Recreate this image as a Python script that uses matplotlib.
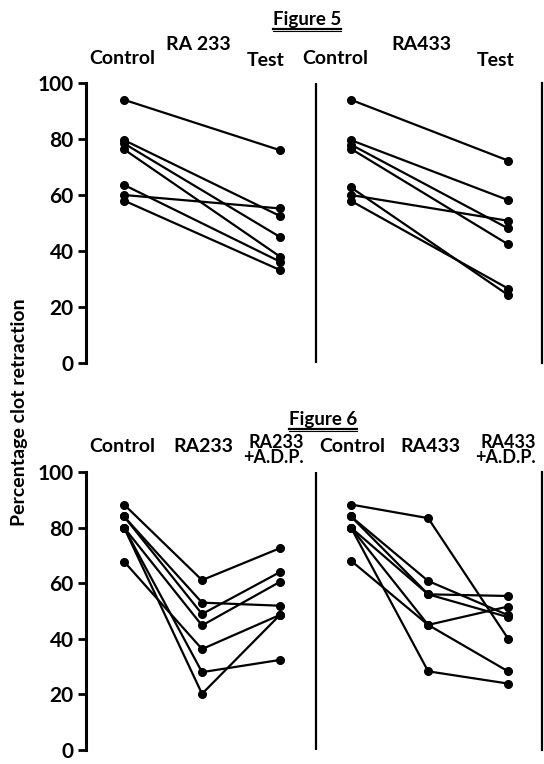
import numpy as np
import matplotlib.pyplot as plt
from matplotlib.lines import Line2D

plt.rcParams['font.family'] = ['Lato', 'DejaVu Sans']

# Figure 5: 対照 -> 試験 (各被験者)
f5_ra233_control = [94, 79.6, 78.4, 76.3, 63.6, 60, 58]
f5_ra233_test = [76, 52.5, 45, 38, 36.2, 55.2, 33.2]
f5_ra433_control = [94, 79.6, 78, 76.5, 62.7, 60, 57.9]
f5_ra433_test = [72.3, 58.2, 48.1, 42.4, 24.3, 50.8, 26.6]

# Figure 6: 対照 -> 薬剤 -> 薬剤 + A.D.P.
f6_ra233_control = [88.3, 84, 84, 80, 80, 80, 67.8]
f6_ra233_drug = [61.1, 53, 48.9, 44.8, 28, 20.2, 36.3]
f6_ra233_adp = [72.6, 51.9, 64, 60.5, 32.4, 48.6, 48.6]
f6_ra433_control = [88.3, 84, 84, 80, 80, 80, 68.1]
f6_ra433_drug = [83.4, 60.8, 56, 56, 45, 28.3, 45]
f6_ra433_adp = [40.1, 48.5, 55.4, 47.8, 51.6, 23.9, 28.3]

yticks = [0, 20, 40, 60, 80, 100]
ytick_labels = ["0", "20", "40", "60", "80", "100"]

W, H = 544, 764
fig = plt.figure(figsize=(W / 100, H / 100), dpi=100)


def px_axes(x0, x1, y_top, y_bot):
    return fig.add_axes([x0 / W, 1 - y_bot / H, (x1 - x0) / W, (y_bot - y_top) / H])


def style(ax):
    ax.set_xlim(-0.244, 2.68)
    ax.set_ylim(0, 100)
    for s in ['top', 'bottom']:
        ax.spines[s].set_visible(False)
    ax.spines['left'].set_linewidth(2.2)
    ax.spines['right'].set_linewidth(1.6)
    ax.set_xticks([])
    ax.set_yticks(yticks)
    ax.set_yticklabels(ytick_labels, fontsize=15, fontweight='bold')
    ax.tick_params(axis='y', direction='out', length=6, width=2, pad=3)
    ax.axvline(1.23, color='black', lw=1.6)
    ax.patch.set_alpha(0)


def draw(ax, xs, cols):
    for vals in zip(*cols):
        ax.plot(xs, vals, color='black', lw=1.6, marker='o', markersize=5.5,
                clip_on=False)


ax1 = px_axes(86, 542, 83, 363)
style(ax1)
draw(ax1, [0, 1], [f5_ra233_control, f5_ra233_test])
draw(ax1, [1.455, 2.462], [f5_ra433_control, f5_ra433_test])

ax2 = px_axes(86, 542, 472, 750)
style(ax2)
draw(ax2, [0, 0.5, 1], [f6_ra233_control, f6_ra233_drug, f6_ra233_adp])
draw(ax2, [1.455, 1.95, 2.462], [f6_ra433_control, f6_ra433_drug, f6_ra433_adp])


def ftext(x, y, s, ha='center', size=14, **kw):
    return fig.text(x / W, 1 - y / H, s, ha=ha, va='center', fontsize=size,
                    fontweight='bold', **kw)


def underline_title(x, y, s):
    t = ftext(x, y, s, size=13.5)
    fig.canvas.draw()
    bb = t.get_window_extent()
    yy = bb.y0 - 1
    fig.add_artist(Line2D([bb.x0 / W, bb.x1 / W], [yy / H, yy / H],
                          color='black', lw=1.6))
    fig.add_artist(Line2D([bb.x0 / W, bb.x1 / W], [(yy - 2.5) / H, (yy - 2.5) / H],
                          color='black', lw=0.8))


underline_title(307, 19, "Figure 5")
underline_title(323, 419, "Figure 6")

# Figure 5 の見出し
ftext(198, 44, "RA 233")
ftext(122, 59, "Control")
ftext(266, 61, "Test")
ftext(335, 59, "Control")
ftext(421, 44, "RA433")
ftext(496, 61, "Test")

# Figure 6 の見出し
ftext(122, 446, "Control")
ftext(203, 446, "RA233")
ftext(304, 450, "RA233\n+A.D.P.", ha='right', size=13, linespacing=0.8)
ftext(352, 446, "Control")
ftext(430, 446, "RA433")
ftext(536, 450, "RA433\n+A.D.P.", ha='right', size=13, linespacing=0.8)

fig.text(20 / W, 1 - 412 / H, "Percentage clot retraction", rotation=90,
         ha='center', va='center', fontsize=14, fontweight='bold')

fig.savefig("out.png", dpi=100)
